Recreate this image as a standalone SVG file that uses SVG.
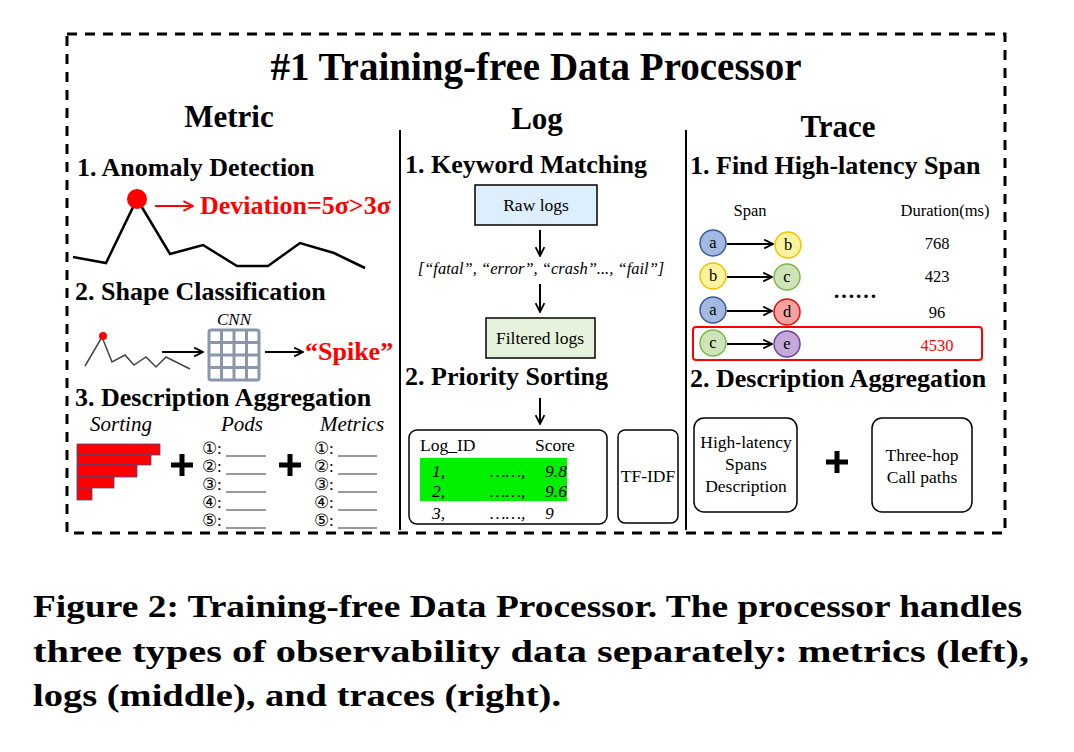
<svg xmlns="http://www.w3.org/2000/svg" width="1074" height="752" viewBox="0 0 1074 752">
<style>
text{font-family:"Liberation Serif",serif;fill:#000}
.h{font-size:31px;font-weight:bold}
.s{font-size:26px;font-weight:bold}
.n{font-size:17.5px}
.i{font-style:italic}
.c{stroke-width:1.5}
.p{stroke:#000;stroke-width:5}
</style>
<defs>
<marker id="ah" viewBox="0 0 10 10" refX="9" refY="5" markerWidth="11" markerHeight="11" orient="auto" markerUnits="userSpaceOnUse"><path d="M1,1 L9,5 L1,9" fill="none" stroke="#000" stroke-width="1.6"/></marker>
<marker id="ar" viewBox="0 0 10 10" refX="9" refY="5" markerWidth="12" markerHeight="12" orient="auto" markerUnits="userSpaceOnUse"><path d="M1,1 L9,5 L1,9" fill="none" stroke="#f00" stroke-width="1.6"/></marker>
</defs>
<rect width="1074" height="752" fill="#fff"/>
<rect x="67" y="34" width="938" height="499" fill="none" stroke="#000" stroke-width="3" stroke-dasharray="10,8"/>
<text x="536" y="80" text-anchor="middle" font-size="39" font-weight="bold">#1 Training-free Data Processor</text>
<line x1="400" y1="130" x2="400" y2="530" stroke="#000" stroke-width="2"/>
<line x1="686" y1="130" x2="686" y2="530" stroke="#000" stroke-width="2"/>

<g id="metric">
<text x="229" y="127" text-anchor="middle" class="h">Metric</text>
<text x="77" y="176" class="s">1. Anomaly Detection</text>
<polyline points="73,257 106,263 137,199 170,254 203,245 237,266 268,266 300,243 334,253 365,268" fill="none" stroke="#000" stroke-width="2.5"/>
<circle cx="137" cy="199" r="10" fill="#f00"/>
<line x1="155" y1="206" x2="193" y2="206" stroke="#f00" stroke-width="2" marker-end="url(#ar)"/>
<text x="200" y="214" font-size="26" font-weight="bold" style="fill:#f00">Deviation=5σ&gt;3σ</text>
<text x="75" y="300" class="s">2. Shape Classification</text>
<polyline points="85,366 102,337 112,362 125,355 134,365 146,357 156,367 166,357 176,362 190,369" fill="none" stroke="#444" stroke-width="1.5"/>
<circle cx="103" cy="336" r="4" fill="#f00"/>
<line x1="162" y1="352" x2="203" y2="352" stroke="#000" stroke-width="2" marker-end="url(#ah)"/>
<text x="234" y="325" text-anchor="middle" font-size="17" class="i">CNN</text>
<g stroke="#8a96ab" stroke-width="3" fill="none">
<rect x="209" y="330" width="50" height="50" rx="2"/>
<path d="M221.5,330V380M234,330V380M246.5,330V380M209,342.5H259M209,355H259M209,367.5H259"/>
</g>
<line x1="265" y1="352" x2="303" y2="352" stroke="#000" stroke-width="2" marker-end="url(#ah)"/>
<text x="305" y="360" font-size="26" font-weight="bold" style="fill:#f00">“Spike”</text>
<text x="75" y="406" class="s">3. Description Aggregation</text>
<text x="121" y="431" text-anchor="middle" font-size="21" class="i">Sorting</text>
<text x="242" y="431" text-anchor="middle" font-size="21" class="i">Pods</text>
<text x="352" y="431" text-anchor="middle" font-size="21" class="i">Metrics</text>
<g fill="#f00" stroke="#3a4d8c" stroke-width="0.8">
<rect x="77" y="444" width="83" height="11"/><rect x="77" y="455" width="74" height="10"/><rect x="77" y="465" width="60" height="12"/><rect x="77" y="477" width="37" height="11"/><rect x="77" y="488" width="15" height="12"/>
</g>
<path class="p" d="M171,465H193M182,454V476M279,465H301M290,454V476"/>
<g font-size="17">
<text x="202" y="454">①:</text><text x="202" y="472">②:</text><text x="202" y="490">③:</text><text x="202" y="508">④:</text><text x="202" y="526">⑤:</text>
<text x="314" y="454">①:</text><text x="314" y="472">②:</text><text x="314" y="490">③:</text><text x="314" y="508">④:</text><text x="314" y="526">⑤:</text>
</g>
<path d="M226,456H266M226,474H266M226,492H266M226,510H266M226,528H266M338,456H377M338,474H377M338,492H377M338,510H377M338,528H377" stroke="#333" stroke-width="1"/>
</g>

<g id="log">
<text x="537" y="129" text-anchor="middle" class="h">Log</text>
<text x="405" y="173" class="s">1. Keyword Matching</text>
<rect x="475" y="185" width="122" height="40" fill="#ddeefc" stroke="#000" stroke-width="1.5"/>
<text x="536" y="211" text-anchor="middle" class="n">Raw logs</text>
<text x="541" y="274" text-anchor="middle" font-size="16.5" class="i">[“fatal”, “error”, “crash”..., “fail”]</text>
<rect x="486" y="318" width="109" height="40" fill="#e5f3dc" stroke="#000" stroke-width="1.5"/>
<text x="540" y="344" text-anchor="middle" class="n">Filtered logs</text>
<text x="405" y="385" class="s">2. Priority Sorting</text>
<rect x="409" y="430" width="198" height="94" rx="8" fill="none" stroke="#000" stroke-width="1.5"/>
<text x="420" y="451" class="n">Log_ID</text><text x="535" y="451" class="n">Score</text>
<rect x="420" y="458" width="147" height="43" fill="#00f000"/>
<g font-size="17.5" class="i">
<text x="432" y="477" class="i">1,</text><text x="490" y="477">……,</text><text x="545" y="477" class="i">9.8</text>
<text x="432" y="497" class="i">2,</text><text x="490" y="497">……,</text><text x="545" y="497" class="i">9.6</text>
<text x="432" y="519" class="i">3,</text><text x="490" y="519">……,</text><text x="545" y="519" class="i">9</text>
</g>
<rect x="618" y="430" width="60" height="93" rx="7" fill="none" stroke="#000" stroke-width="1.5"/>
<text x="648" y="482" text-anchor="middle" class="n">TF-IDF</text>
</g>

<g id="trace">
<text x="838" y="137" text-anchor="middle" class="h">Trace</text>
<text x="690" y="174" class="s">1. Find High-latency Span</text>
<text x="750" y="216" text-anchor="middle" font-size="16.5">Span</text>
<text x="945" y="216" text-anchor="middle" font-size="16.5">Duration(ms)</text>
<g font-size="16.5" text-anchor="middle">
<circle cx="713" cy="243" r="13" fill="#a4b9e2" stroke="#3b5b9a" class="c"/><text x="713" y="248">a</text>
<circle cx="788" cy="245" r="13" fill="#fff3a0" stroke="#f3c300" class="c"/><text x="788" y="250">b</text>
<circle cx="713" cy="276" r="13" fill="#fff3a0" stroke="#f3c300" class="c"/><text x="713" y="281">b</text>
<circle cx="787" cy="277" r="13" fill="#cfe3b8" stroke="#7bb84f" class="c"/><text x="787" y="282">c</text>
<circle cx="713" cy="310" r="13" fill="#a4b9e2" stroke="#3b5b9a" class="c"/><text x="713" y="315">a</text>
<circle cx="787" cy="312" r="13" fill="#f7a0a0" stroke="#e01010" class="c"/><text x="787" y="317">d</text>
<circle cx="713" cy="343" r="13" fill="#cfe3b8" stroke="#7bb84f" class="c"/><text x="713" y="348">c</text>
<circle cx="787" cy="344" r="13" fill="#c4a9d8" stroke="#7040a0" class="c"/><text x="787" y="349">e</text>
<text x="937" y="249">768</text><text x="937" y="282">423</text><text x="937" y="318">96</text>
<text x="937" y="351" style="fill:#f00">4530</text>
</g>
<text x="855" y="298" text-anchor="middle" font-size="22" font-weight="bold">……</text>
<rect x="693" y="327" width="289" height="33" rx="3" fill="none" stroke="#f00" stroke-width="2"/>
<text x="690" y="387" class="s">2. Description Aggregation</text>
<rect x="694" y="418" width="103" height="94" rx="10" fill="none" stroke="#000" stroke-width="1.5"/>
<text x="746" y="448" text-anchor="middle" class="n">High-latency</text>
<text x="746" y="470" text-anchor="middle" class="n">Spans</text>
<text x="746" y="492" text-anchor="middle" class="n">Description</text>
<path class="p" d="M826,462H848M837,451V473"/>
<rect x="872" y="418" width="100" height="94" rx="10" fill="none" stroke="#000" stroke-width="1.5"/>
<text x="922" y="461" text-anchor="middle" class="n">Three-hop</text>
<text x="922" y="483" text-anchor="middle" class="n">Call paths</text>
</g>

<g id="connectors" stroke="#000" stroke-width="2">
<line x1="540" y1="230" x2="540" y2="256" marker-end="url(#ah)"/>
<line x1="540" y1="284" x2="540" y2="312" marker-end="url(#ah)"/>
<line x1="540" y1="398" x2="540" y2="424" marker-end="url(#ah)"/>
<line x1="727" y1="244" x2="773" y2="244" marker-end="url(#ah)"/>
<line x1="727" y1="277" x2="772" y2="277" marker-end="url(#ah)"/>
<line x1="727" y1="311" x2="772" y2="311" marker-end="url(#ah)"/>
<line x1="727" y1="344" x2="772" y2="344" marker-end="url(#ah)"/>
</g>

<g id="caption" font-weight="bold" font-size="32">
<text x="33" y="617" textLength="989" lengthAdjust="spacingAndGlyphs">Figure 2: Training-free Data Processor. The processor handles</text>
<text x="33" y="662" textLength="996" lengthAdjust="spacingAndGlyphs">three types of observability data separately: metrics (left),</text>
<text x="33" y="706" textLength="528" lengthAdjust="spacingAndGlyphs">logs (middle), and traces (right).</text>
</g>
</svg>
